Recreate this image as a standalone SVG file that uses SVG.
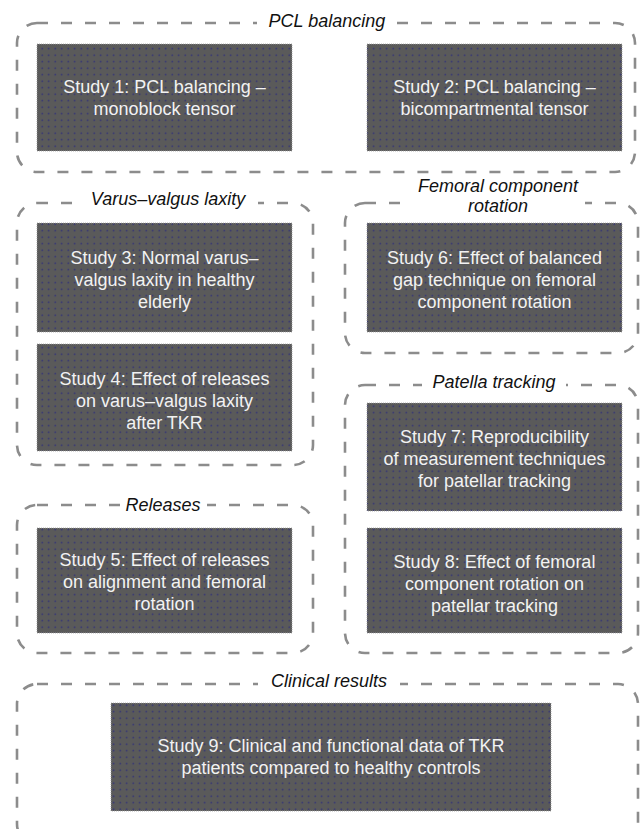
<svg xmlns="http://www.w3.org/2000/svg" width="641" height="829" viewBox="0 0 641 829">
<defs>
<pattern id="dots" width="6.5" height="6.5" patternUnits="userSpaceOnUse">
<rect width="6.5" height="6.5" fill="#5a5a5a"/>
<circle cx="3.2" cy="3.2" r="0.8" fill="#2f2f7a"/>
</pattern>
</defs>
<style>
.grp{fill:none;stroke:#8c8c8c;stroke-width:2.6;stroke-dasharray:11 13}
.bg{fill:#ffffff}
.ttl{font-family:"Liberation Sans",Arial,sans-serif;font-size:18px;font-style:italic;fill:#111;text-anchor:middle}
.box{fill:url(#dots);stroke:#a0a0a0;stroke-width:0.8;stroke-dasharray:1 1}
.txt{font-family:"Liberation Sans",Arial,sans-serif;font-size:18px;fill:#f2f2f2;text-anchor:middle}
</style>
<rect width="641" height="829" fill="#ffffff"/>

<g id="group-pcl">
<rect class="grp" x="17" y="23" width="618" height="149" rx="20"/>
<rect class="bg" x="257" y="10" width="140" height="24"/>
<text class="ttl" x="327" y="27">PCL balancing</text>
</g>
<g id="group-varus">
<rect class="grp" x="17" y="203" width="296" height="262" rx="20"/>
<rect class="bg" x="80" y="188" width="178" height="24"/>
<text class="ttl" x="168" y="205">Varus–valgus laxity</text>
</g>
<g id="group-femoral">
<rect class="grp" x="345" y="203" width="293" height="150" rx="20"/>
<rect class="bg" x="403" y="176" width="182" height="42"/>
<text class="ttl" x="498" y="192">Femoral component</text>
<text class="ttl" x="498" y="212">rotation</text>
</g>
<g id="group-patella">
<rect class="grp" x="345" y="385" width="293" height="268" rx="20"/>
<rect class="bg" x="422" y="372" width="144" height="24"/>
<text class="ttl" x="494" y="388">Patella tracking</text>
</g>
<g id="group-releases">
<rect class="grp" x="17" y="505" width="296" height="148" rx="20"/>
<rect class="bg" x="120" y="492" width="87" height="24"/>
<text class="ttl" x="163" y="511">Releases</text>
</g>
<g id="group-clinical">
<rect class="grp" x="17" y="684" width="621" height="160" rx="20"/>
<rect class="bg" x="258" y="670" width="142" height="24"/>
<text class="ttl" x="329" y="687">Clinical results</text>
</g>

<g id="study1">
<rect class="box" x="37" y="44" width="255" height="107"/>
<text class="txt" x="164.5" y="93">Study 1: PCL balancing –</text>
<text class="txt" x="164.5" y="115">monoblock tensor</text>
</g>
<g id="study2">
<rect class="box" x="367" y="44" width="255" height="107"/>
<text class="txt" x="494.5" y="93">Study 2: PCL balancing –</text>
<text class="txt" x="494.5" y="115">bicompartmental tensor</text>
</g>
<g id="study3">
<rect class="box" x="37" y="223" width="255" height="109"/>
<text class="txt" x="164.5" y="264">Study 3: Normal varus–</text>
<text class="txt" x="164.5" y="286">valgus laxity in healthy</text>
<text class="txt" x="164.5" y="308">elderly</text>
</g>
<g id="study4">
<rect class="box" x="37" y="344" width="255" height="107"/>
<text class="txt" x="164.5" y="385">Study 4: Effect of releases</text>
<text class="txt" x="164.5" y="407">on varus–valgus laxity</text>
<text class="txt" x="164.5" y="429">after TKR</text>
</g>
<g id="study5">
<rect class="box" x="37" y="528" width="255" height="105"/>
<text class="txt" x="164.5" y="566">Study 5: Effect of releases</text>
<text class="txt" x="164.5" y="588">on alignment and femoral</text>
<text class="txt" x="164.5" y="610">rotation</text>
</g>
<g id="study6">
<rect class="box" x="367" y="223" width="255" height="109"/>
<text class="txt" x="494.5" y="264">Study 6: Effect of balanced</text>
<text class="txt" x="494.5" y="286">gap technique on femoral</text>
<text class="txt" x="494.5" y="308">component rotation</text>
</g>
<g id="study7">
<rect class="box" x="367" y="403" width="255" height="108"/>
<text class="txt" x="494.5" y="443">Study 7: Reproducibility</text>
<text class="txt" x="494.5" y="465">of measurement techniques</text>
<text class="txt" x="494.5" y="487">for patellar tracking</text>
</g>
<g id="study8">
<rect class="box" x="367" y="528" width="255" height="105"/>
<text class="txt" x="494.5" y="568">Study 8: Effect of femoral</text>
<text class="txt" x="494.5" y="590">component rotation on</text>
<text class="txt" x="494.5" y="612">patellar tracking</text>
</g>
<g id="study9">
<rect class="box" x="111" y="703" width="440" height="108"/>
<text class="txt" x="331" y="752">Study 9: Clinical and functional data of TKR</text>
<text class="txt" x="331" y="774">patients compared to healthy controls</text>
</g>
<g id="connectors"></g>
</svg>
